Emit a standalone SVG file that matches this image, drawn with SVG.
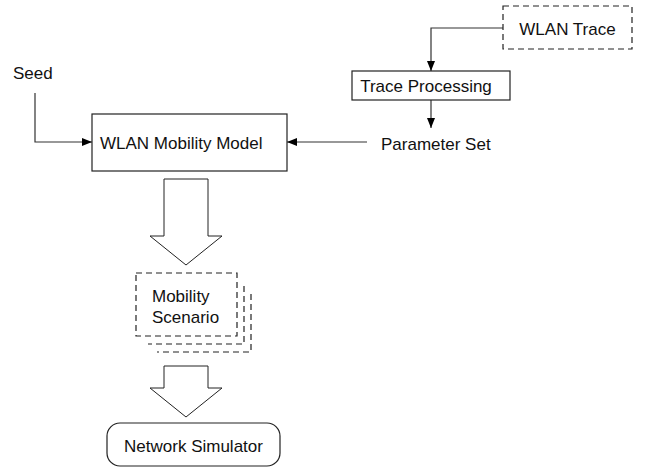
<svg xmlns="http://www.w3.org/2000/svg" width="646" height="468" viewBox="0 0 646 468">
<style>
text{font-family:"Liberation Sans",Arial,sans-serif;font-size:17px;fill:#111}
.b{fill:#fff;stroke:#222;stroke-width:1.2}
.d{fill:#fff;stroke:#222;stroke-width:1.2;stroke-dasharray:6,4}
.dl{fill:none;stroke:#222;stroke-width:1.2;stroke-dasharray:6,4}
.c{fill:none;stroke:#333;stroke-width:1.2}
.h{fill:#fff;stroke:#222;stroke-width:1}
</style>
<defs>
<marker id="ah" viewBox="0 0 10 8" refX="10" refY="4" markerWidth="10" markerHeight="8" markerUnits="userSpaceOnUse" orient="auto">
<path d="M0,0 L10,4 L0,8 Z" fill="#000"/>
</marker>
</defs>
<rect width="646" height="468" fill="#fff"/>
<g id="connectors">
<polyline class="c" points="503,28 431,28 431,71" marker-end="url(#ah)"/>
<line class="c" x1="431" y1="100" x2="431" y2="128" marker-end="url(#ah)"/>
<polyline class="c" points="35,93 35,142 92,142" marker-end="url(#ah)"/>
<line class="c" x1="367" y1="142" x2="287" y2="142" marker-end="url(#ah)"/>
<path class="h" d="M164,179 L208,179 L208,236 L222,236 L186,265 L150,236 L164,236 Z"/>
<path class="h" d="M164,366 L208,366 L208,388 L222,388 L186,417 L150,388 L164,388 Z"/>
</g>
<g id="wlan-trace">
<rect class="d" x="503" y="6" width="129" height="43"/>
<text x="567.5" y="35" text-anchor="middle">WLAN Trace</text>
</g>
<g id="trace-processing">
<rect class="b" x="352" y="71" width="158" height="29"/>
<text x="426" y="92" text-anchor="middle">Trace Processing</text>
</g>
<g id="parameter-set">
<text x="381" y="150">Parameter Set</text>
</g>
<g id="seed">
<text x="13" y="79">Seed</text>
</g>
<g id="wlan-mobility-model">
<rect class="b" x="92" y="114" width="195" height="57"/>
<text x="100" y="149">WLAN Mobility Model</text>
</g>
<g id="mobility-scenario">
<polyline class="dl" points="251,294 251,352 157,352"/>
<polyline class="dl" points="244,286 244,344 148,344"/>
<rect class="d" x="136" y="273" width="101" height="63"/>
<text x="152" y="302">Mobility</text>
<text x="152" y="323">Scenario</text>
</g>
<g id="network-simulator">
<rect class="b" x="107" y="423" width="173" height="43" rx="13" ry="13"/>
<text x="193.5" y="452" text-anchor="middle">Network Simulator</text>
</g>
</svg>
